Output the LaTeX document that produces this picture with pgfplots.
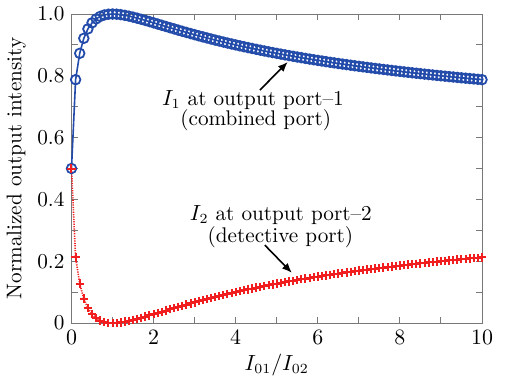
\documentclass[border=0pt]{standalone}
\usepackage{pgfplots}
\pgfplotsset{compat=1.18}
\usepackage{pgfplotstable}
\usetikzlibrary{arrows.meta}
\definecolor{myblue}{RGB}{35,75,170}
\definecolor{myred}{RGB}{240,30,30}
\definecolor{axgray}{RGB}{120,120,120}
\pgfplotstableread{
x I1 I2
0 0.5 0.5
0.1 0.7875 0.2125
0.2 0.8727 0.1273
0.3 0.9213 0.0787
0.4 0.9518 0.0482
0.5 0.9714 0.0286
0.6 0.9841 0.0159
0.7 0.9922 0.0078
0.8 0.9969 0.0031
0.9 0.9993 0.0007
1.0 1.0 0.0
1.1 0.9994 0.0006
1.2 0.9979 0.0021
1.3 0.9957 0.0043
1.4 0.9930 0.0070
1.5 0.9899 0.0101
1.6 0.9865 0.0135
1.7 0.9829 0.0171
1.8 0.9792 0.0208
1.9 0.9753 0.0247
2.0 0.9714 0.0286
2.1 0.9675 0.0325
2.2 0.9635 0.0365
2.3 0.9596 0.0404
2.4 0.9556 0.0444
2.5 0.9518 0.0483
2.6 0.9479 0.0521
2.7 0.9441 0.0559
2.8 0.9404 0.0597
2.9 0.9367 0.0634
3.0 0.9330 0.0670
3.1 0.9294 0.0706
3.2 0.9259 0.0741
3.3 0.9225 0.0775
3.4 0.9191 0.0809
3.5 0.9157 0.0843
3.6 0.9125 0.0875
3.7 0.9093 0.0907
3.8 0.9061 0.0939
3.9 0.9030 0.0970
4.0 0.9000 0.1000
4.1 0.8970 0.1030
4.2 0.8941 0.1059
4.3 0.8913 0.1088
4.4 0.8885 0.1116
4.5 0.8857 0.1143
4.6 0.8830 0.1170
4.7 0.8803 0.1197
4.8 0.8777 0.1223
4.9 0.8752 0.1248
5.0 0.8727 0.1273
5.1 0.8702 0.1298
5.2 0.8678 0.1322
5.3 0.8654 0.1346
5.4 0.8631 0.1369
5.5 0.8608 0.1392
5.6 0.8586 0.1415
5.7 0.8563 0.1437
5.8 0.8542 0.1458
5.9 0.8520 0.1480
6.0 0.8499 0.1501
6.1 0.8479 0.1521
6.2 0.8458 0.1542
6.3 0.8438 0.1562
6.4 0.8419 0.1581
6.5 0.8399 0.1601
6.6 0.8380 0.1620
6.7 0.8362 0.1638
6.8 0.8343 0.1657
6.9 0.8325 0.1675
7.0 0.8307 0.1693
7.1 0.8290 0.1710
7.2 0.8272 0.1728
7.3 0.8255 0.1745
7.4 0.8238 0.1762
7.5 0.8222 0.1778
7.6 0.8206 0.1794
7.7 0.8190 0.1811
7.8 0.8174 0.1826
7.9 0.8158 0.1842
8.0 0.8143 0.1857
8.1 0.8128 0.1873
8.2 0.8113 0.1887
8.3 0.8098 0.1902
8.4 0.8083 0.1917
8.5 0.8069 0.1931
8.6 0.8055 0.1945
8.7 0.8041 0.1959
8.8 0.8027 0.1973
8.9 0.8013 0.1987
9.0 0.8000 0.2000
9.1 0.7987 0.2013
9.2 0.7974 0.2026
9.3 0.7961 0.2039
9.4 0.7948 0.2052
9.5 0.7935 0.2065
9.6 0.7923 0.2077
9.7 0.7911 0.2089
9.8 0.7899 0.2101
9.9 0.7887 0.2113
10.0 0.7875 0.2125
}\datatable
\begin{document}
\begin{tikzpicture}[font=\fontsize{10.6}{12.7}\selectfont]
\path[use as bounding box] (-35.75pt,-27pt) rectangle (218.75pt,161.5pt);
\begin{axis}[
  scale only axis,
  width=205.25pt, height=154.5pt,
  xmin=0, xmax=10, ymin=0, ymax=1,
  xtick={0,2,4,6,8,10},
  ytick={0,0.2,0.4,0.6,0.8,1.0},
  yticklabels={0,0.2,0.4,0.6,0.8,1.0},
  minor x tick num=1, minor y tick num=1,
  tick align=inside,
  major tick length=3pt, minor tick length=3pt,
  axis line style={axgray, line width=0.5pt},
  every tick/.style={axgray, line width=0.5pt},
  tick label style={font=\fontsize{10.6}{12.7}\selectfont},
  label style={font=\fontsize{10.6}{12.7}\selectfont},
  xlabel={$I_{01}/I_{02}$},
  ylabel={Normalized output intensity},
  xlabel style={yshift=2pt},
  ylabel style={yshift=-1pt},
  clip=false,
]
\addplot[myblue, line width=0.8pt, mark=o, mark size=2.4pt,
  mark options={solid, line width=0.9pt}] table[x=x, y=I1] {\datatable};
\addplot[myred, line width=0.8pt, dash pattern=on 0.6pt off 0.6pt, mark=+, mark size=2.1pt,
  mark options={solid, line width=1pt}] table[x=x, y=I2] {\datatable};
\node at (axis cs:4.42,0.722) {$I_1$ at output port--1};
\node at (axis cs:4.49,0.657) {(combined port)};
\draw[-{Latex[length=5pt,width=4pt]}, line width=0.8pt] (axis cs:4.59,0.754) -- (axis cs:5.27,0.845);
\node at (axis cs:5.10,0.350) {$I_2$ at output port--2};
\node at (axis cs:5.09,0.278) {(detective port)};
\draw[-{Latex[length=5pt,width=4pt]}, line width=0.8pt] (axis cs:4.71,0.252) -- (axis cs:5.37,0.162);
\end{axis}
\end{tikzpicture}
\end{document}
